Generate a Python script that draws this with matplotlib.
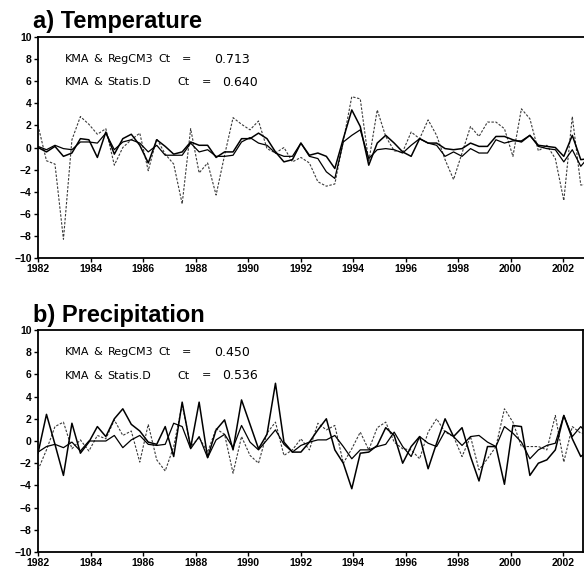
import matplotlib
matplotlib.use("Agg")
import matplotlib.pyplot as plt
import numpy as np

# time axis: 66 points from 1982 to 2003
n_pts = 66
years = np.linspace(1982, 2003, n_pts)

# a) Temperature anomalies
temp_kma = [0.0, -0.4, 0.1, -0.8, -0.5, 0.8, 0.7, -0.9, 1.4, -0.6,
            0.8, 1.2, 0.2, -1.4, 0.7, 0.1, -0.6, -0.4, 0.5, 0.2,
            0.2, -0.9, -0.4, -0.4, 0.8, 0.8, 1.3, 0.8, -0.4, -1.3,
            -1.1, 0.4, -0.7, -0.5, -0.8, -1.9, 0.8, 3.4, 1.9, -1.6,
            0.4, 1.1, 0.4, -0.4, -0.8, 0.8, 0.4, 0.4, -0.1, -0.2,
            -0.1, 0.4, 0.1, 0.1, 1.0, 1.0, 0.7, 0.5, 1.1, 0.2,
            0.1, 0.0, -0.8, 1.1, -1.1, -1.0]
temp_stat = [0.1, -0.2, 0.2, -0.1, -0.2, 0.5, 0.5, 0.4, 1.3, -0.2,
             0.5, 0.7, 0.4, -0.4, 0.2, -0.7, -0.7, -0.7, 0.4, -0.4,
             -0.2, -0.8, -0.8, -0.7, 0.5, 0.9, 0.4, 0.2, -0.5, -0.8,
             -0.8, 0.4, -0.8, -1.0, -2.2, -2.8, 0.5, 1.1, 1.6, -1.0,
             -0.2, -0.1, -0.2, -0.5, 0.2, 0.8, 0.4, 0.2, -0.8, -0.4,
             -0.8, -0.1, -0.5, -0.5, 0.7, 0.4, 0.6, 0.6, 1.1, 0.1,
             -0.1, -0.2, -1.3, -0.2, -1.7, -0.8]
temp_reg = [2.0, -1.2, -1.5, -8.3, 0.7, 2.8, 2.1, 1.2, 1.7, -1.6,
            0.0, 0.7, 1.3, -2.1, 0.8, -0.6, -1.5, -5.1, 1.7, -2.3,
            -1.4, -4.3, -0.7, 2.7, 2.1, 1.6, 2.4, -0.1, -0.5, 0.0,
            -1.3, -0.9, -1.4, -3.1, -3.5, -3.3, 0.6, 4.6, 4.4, -1.3,
            3.4, 1.0, -0.3, -0.4, 1.4, 0.8, 2.5, 1.1, -1.1, -2.9,
            -0.5, 1.9, 1.0, 2.3, 2.3, 1.7, -0.8, 3.5, 2.6, -0.3,
            0.2, -1.0, -4.8, 2.8, -3.4, -3.3]

# b) Precipitation anomalies
prec_kma = [-1.1, 2.4, -0.3, -3.1, 1.6, -1.1, -0.1, 1.3, 0.4, 2.0,
            2.9, 1.5, 0.9, -0.1, -0.3, 1.3, -1.4, 3.5, -0.6, 3.5,
            -1.5, 1.0, 1.9, -0.8, 3.7, 1.5, -0.7, 0.6, 5.2, -0.1,
            -1.0, -1.0, -0.1, 1.0, 2.0, -0.8, -2.0, -4.3, -1.1, -1.0,
            -0.4, 1.2, 0.5, -2.0, -0.5, 0.4, -2.5, -0.2, 2.0, 0.4,
            1.2, -1.4, -3.6, -0.5, -0.5, -3.9, 1.4, 1.3, -3.1, -2.0,
            -1.7, -0.8, 2.3, 0.2, -1.4, -0.8]
prec_stat = [-1.0, -0.5, -0.3, -0.6, -0.1, -0.9, 0.0, 0.0, 0.0, 0.5,
             -0.6, 0.1, 0.5, -0.3, -0.4, -0.3, 1.6, 1.3, -0.7, 0.4,
             -1.5, 0.1, 0.6, -0.6, 1.4, -0.1, -0.8, 0.1, 1.0, -0.3,
             -1.0, -0.4, -0.1, 0.1, 0.1, 0.5, -0.5, -1.6, -0.8, -0.8,
             -0.5, -0.3, 0.8, -0.5, -1.4, 0.4, -0.2, -0.5, 0.9, 0.4,
             -0.4, 0.4, 0.5, -0.1, -0.5, 1.3, 0.7, -0.1, -1.6, -0.8,
             -0.4, -0.2, 2.3, 0.4, 1.3, 0.4]
prec_reg = [-2.6, -0.8, 1.3, 1.7, -0.7, 0.1, -0.9, 0.5, 0.2, 1.9,
            0.5, 0.9, -1.9, 1.5, -1.7, -2.7, -0.5, 3.3, -0.5, 0.3,
            -1.0, 1.1, 0.6, -2.9, 0.4, -1.3, -2.0, 0.7, 1.7, -1.3,
            -0.8, 0.2, -0.8, 1.6, 1.0, 1.4, -2.0, -0.7, 0.8, -0.8,
            1.2, 1.7, -0.1, -0.7, -0.8, -1.6, 0.8, 2.0, 0.8, 0.4,
            -1.4, 0.4, -2.6, -1.6, -0.5, 2.9, 1.7, -0.5, -0.5, -0.5,
            -0.8, 2.3, -1.9, 1.3, 0.7, 0.7]

titles = ["a) Temperature", "b) Precipitation"]
ct_reg = ["0.713", "0.450"]
ct_stat = ["0.640", "0.536"]
xticks = np.arange(1982, 2003, 2)
yticks = np.arange(-10, 11, 2)

tick_font = ["Liberation Sans Narrow", "Liberation Sans", "DejaVu Sans"]
note_font = ["DejaVu Sans"]
W, H = 584, 570
px_per_year = 26.25
x0 = 38  # pixel of 1982

fig = plt.figure(figsize=(W / 100, H / 100), dpi=100)

# axes boxes in pixels: (left, top, right, bottom)
boxes_px = [(38, 37, 586, 258), (38, 330, 583, 552)]
title_base = [28, 322]

series = [(temp_kma, temp_stat, temp_reg), (prec_kma, prec_stat, prec_reg)]


def px2year(px):
    return 1982 + (px - x0) / px_per_year


for k in range(2):
    l, t, r, b = boxes_px[k]
    ax = fig.add_axes([l / W, 1 - b / H, (r - l) / W, (b - t) / H])
    kma, stat, reg = series[k]
    ax.plot(years, reg, color="#3a3a3a", lw=0.8, ls=(0, (2.2, 1.4)))
    ax.plot(years, stat, color="black", lw=0.9)
    ax.plot(years, kma, color="black", lw=1.1)
    ax.set_xlim(1982, px2year(r))
    ax.set_ylim(-10, 10)
    ax.set_xticks(xticks)
    ax.set_yticks(yticks)
    ax.set_xticklabels([str(x) for x in xticks], family=tick_font,
                       fontweight="bold", fontsize=7.5)
    ax.set_yticklabels([str(y).replace("-", "\u2212") for y in yticks],
                       family=tick_font, fontweight="bold", fontsize=7.5)
    ax.tick_params(axis="both", direction="out", length=3, width=1, pad=1.5)
    for side in ["left", "bottom", "top", "right"]:
        ax.spines[side].set_linewidth(1.3)

    # correlation notes, word by word to mimic the wide plotting font
    lines = [
        (8.0, [("KMA", 65), ("&", 93), ("RegCM3", 108), ("Ct", 158),
               ("=", 182)], ct_reg[k], 232),
        (5.9, [("KMA", 65), ("&", 93), ("Statis.D", 107), ("Ct", 177),
               ("=", 202)], ct_stat[k], 240),
    ]
    for yv, words, num, num_px in lines:
        for word, px in words:
            ax.text(px2year(px), yv, word, fontsize=8, va="center",
                    ha="left", family=note_font)
        ax.text(px2year(num_px), yv, num, fontsize=9, va="center",
                ha="center", family=note_font)

    fig.text(33 / W, 1 - title_base[k] / H, titles[k], fontsize=17,
             fontweight="bold", family=["Liberation Sans", "DejaVu Sans"],
             va="baseline")

fig.savefig("out.png", dpi=100)
